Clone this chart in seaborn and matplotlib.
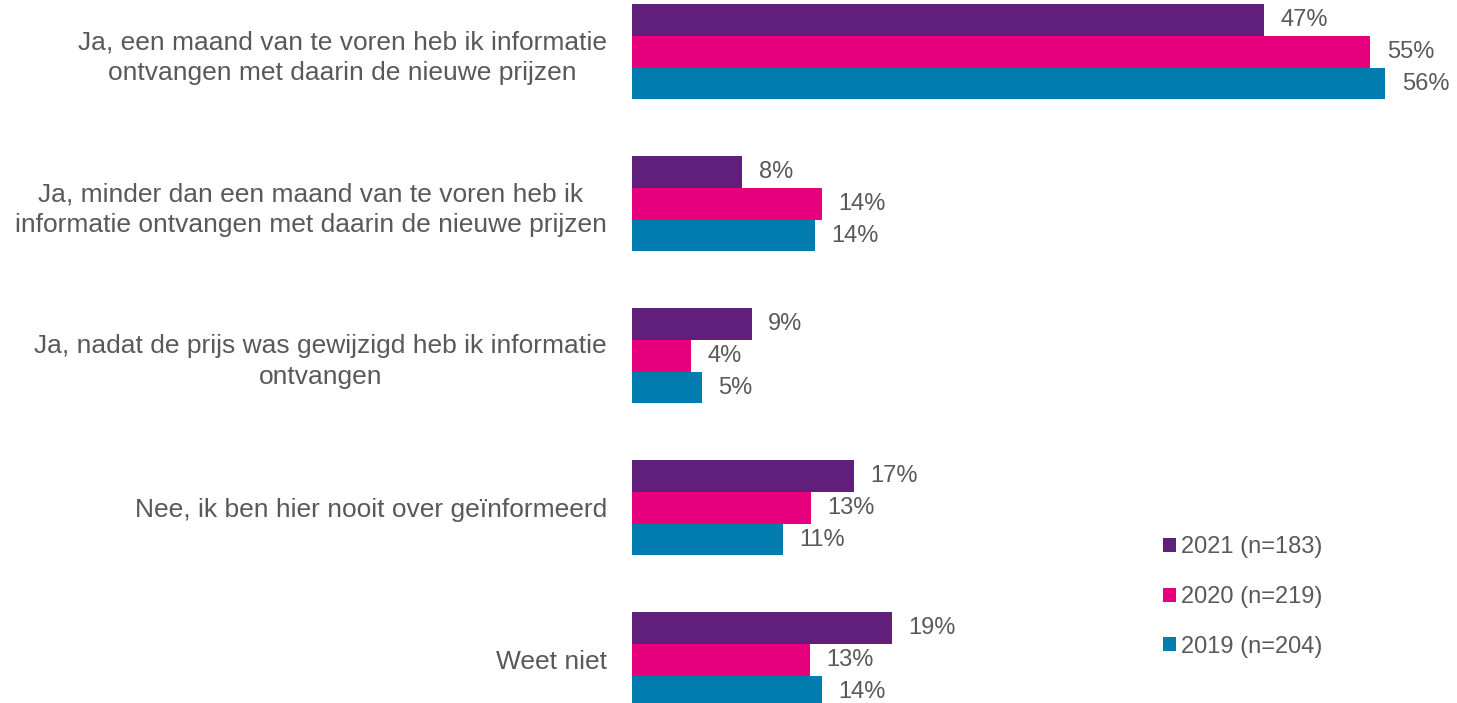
import matplotlib
matplotlib.use("Agg")
import matplotlib.pyplot as plt
import seaborn as sns
import pandas as pd

categories = [
    "Ja, een maand van te voren heb ik informatie\nontvangen met daarin de nieuwe prijzen",
    "Ja, minder dan een maand van te voren heb ik\ninformatie ontvangen met daarin de nieuwe prijzen",
    "Ja, nadat de prijs was gewijzigd heb ik informatie\nontvangen",
    "Nee, ik ben hier nooit over geïnformeerd",
    "Weet niet",
]
series = ["2021 (n=183)", "2020 (n=219)", "2019 (n=204)"]
values_2021 = [47.0, 8.2, 8.9, 16.5, 19.3]
values_2020 = [54.9, 14.1, 4.4, 13.3, 13.2]
values_2019 = [56.0, 13.6, 5.2, 11.2, 14.1]
labels_2021 = ["47%", "8%", "9%", "17%", "19%"]
labels_2020 = ["55%", "14%", "4%", "13%", "13%"]
labels_2019 = ["56%", "14%", "5%", "11%", "14%"]
colors = ["#5F1F7A", "#E6007E", "#007DAE"]

rows = []
for s, vals in zip(series, [values_2021, values_2020, values_2019]):
    for c, v in zip(categories, vals):
        rows.append({"cat": c, "series": s, "value": v})
df = pd.DataFrame(rows)

sns.set_theme(style="white")
plt.rcParams["font.family"] = ["Liberation Sans", "DejaVu Sans"]

fig = plt.figure(figsize=(14.57, 7.03), dpi=100)
ax = fig.add_axes([632 / 1457, 0, 1 - 632 / 1457, 1])

sns.barplot(data=df, y="cat", x="value", hue="series", order=categories,
            hue_order=series, palette=colors, orient="h", width=0.625,
            gap=0, saturation=1, ax=ax, legend=True, edgecolor="none")

text_color = "#595959"
for container, labs in zip(ax.containers, [labels_2021, labels_2020, labels_2019]):
    ax.bar_label(container, labels=labs, padding=12, fontsize=17, color=text_color)

ax.set_xlim(0, (1457 - 632) / 13.45)
ax.set_ylim(4.283, -0.342)
ax.set_xlabel("")
ax.set_ylabel("")
ax.set_xticks([])
for sp in ax.spines.values():
    sp.set_visible(False)
ax.tick_params(axis="y", length=0, pad=18)
ax.set_yticks(range(len(categories)))
ax.set_yticklabels(categories, fontsize=19, color=text_color,
                   multialignment="center", linespacing=1.35)

handles, labels = ax.get_legend_handles_labels()
ax.legend(handles, labels, loc="center left",
          bbox_to_anchor=(1163 / 1457, 1 - 597 / 703), bbox_transform=fig.transFigure,
          frameon=False, fontsize=17, handlelength=0.55, handleheight=0.55,
          handletextpad=0.2, labelspacing=1.17, labelcolor=text_color,
          borderpad=0, borderaxespad=0)

fig.savefig("out.png", dpi=100)
